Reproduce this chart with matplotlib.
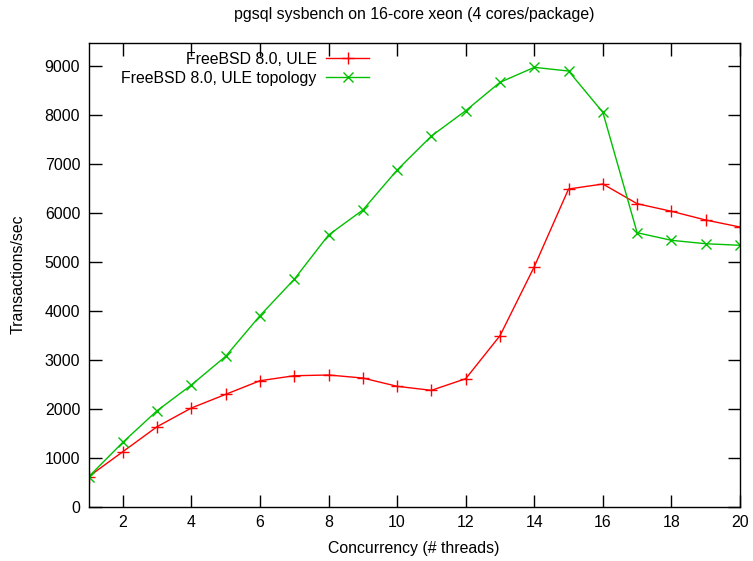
import matplotlib
matplotlib.use("Agg")
import matplotlib.pyplot as plt
from matplotlib.legend import Legend

plt.rcParams['font.family'] = ['Liberation Sans', 'DejaVu Sans']

threads = list(range(1, 21))
ule = [612, 1122, 1633, 2014, 2293, 2571, 2673, 2688, 2626, 2457,
       2375, 2612, 3490, 4898, 6484, 6586, 6184, 6029, 5851, 5708]
ule_topo = [608, 1314, 1959, 2484, 3069, 3898, 4641, 5545, 6055, 6871,
            7565, 8082, 8661, 8967, 8892, 8049, 5592, 5437, 5367, 5335]
xticks = list(range(2, 21, 2))
yticks = list(range(0, 9001, 1000))
labels = ["FreeBSD 8.0, ULE", "FreeBSD 8.0, ULE topology"]

FS = 11.4
W, H = 753, 561
fig = plt.figure(figsize=(W / 100, H / 100), dpi=100)
ax = fig.add_axes([88.5 / W, 1 - 506.7 / H, (740 - 88.5) / W, (506.7 - 42.7) / H])

l1, = ax.plot(threads, ule, color='#ff0000', marker='+', markersize=8, mew=1, lw=1, label=labels[0])
l2, = ax.plot(threads, ule_topo, color='#00c000', marker='x', markersize=6.5, mew=1, lw=1, label=labels[1])

ax.set_xlim(1, 20)
ax.set_ylim(0, 9470)
ax.set_xticks(xticks)
ax.set_yticks(yticks)
ax.tick_params(direction='in', length=9, width=1, top=True, right=True, labelsize=FS, pad=6)
for s in ax.spines.values():
    s.set_linewidth(1)

ax.set_xlabel("Concurrency (# threads)", fontsize=FS, labelpad=8)
ax.set_ylabel("Transactions/sec", fontsize=FS, labelpad=14)
fig.text(414 / W, 1 - 14 / H, "pgsql sysbench on 16-core xeon (4 cores/package)",
         ha='center', va='center', fontsize=FS)

rows_y = [59, 78.3]
for line, lab, yc in zip([l1, l2], labels, rows_y):
    leg = Legend(ax, [line], [lab], loc='center right', bbox_to_anchor=(369 / W, 1 - yc / H),
                 bbox_transform=fig.transFigure, frameon=False, markerfirst=False,
                 fontsize=FS, handlelength=2.7, handletextpad=0.6, borderpad=0,
                 borderaxespad=0)
    ax.add_artist(leg)

fig.savefig("out.png", dpi=100)
